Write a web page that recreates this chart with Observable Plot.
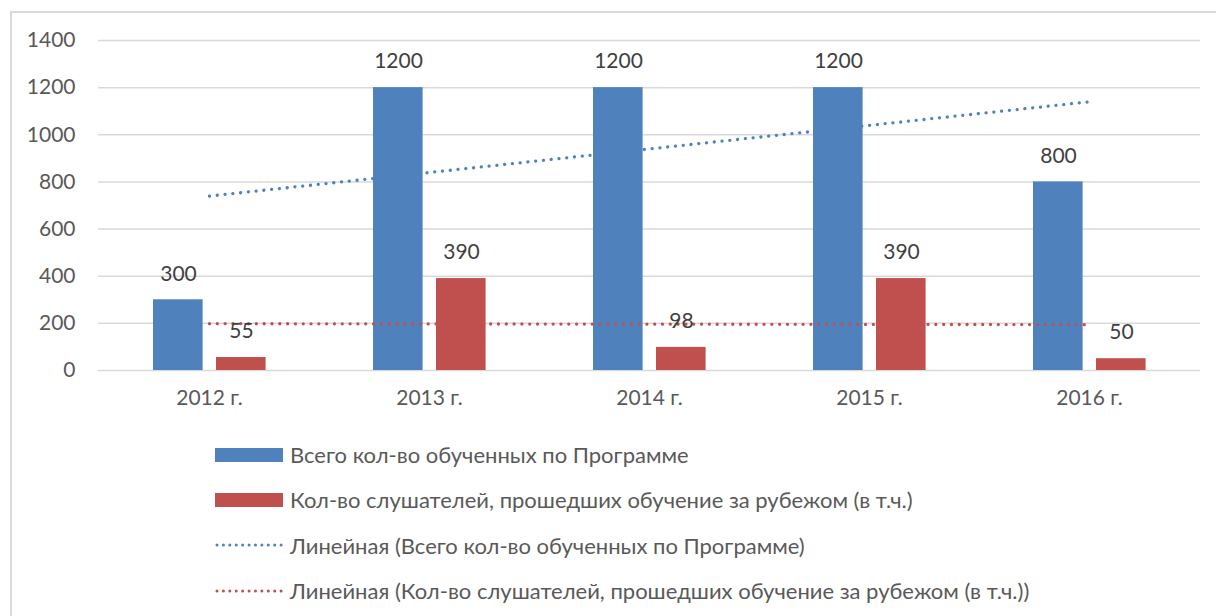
<!DOCTYPE html>
<html>
<head>
<meta charset="utf-8">
<script src="https://cdn.jsdelivr.net/npm/d3@7"></script>
<script src="https://cdn.jsdelivr.net/npm/@observablehq/plot@0.6"></script>
<style>
  html, body { margin: 0; padding: 0; background: #fff; }
  body { position: relative; width: 1216px; height: 616px; overflow: hidden; font-family: Lato, "Open Sans", sans-serif; color: #595959; }
  #frame { position: absolute; left: 10px; top: 11px; width: 1230px; height: 640px; border: 2px solid #d9d9d9; box-sizing: border-box; }
  #chart { position: absolute; left: 0; top: 0; }
  #legend { position: absolute; left: 215px; top: 432px; }
  .row { display: flex; align-items: center; height: 45.3px; font-size: 22px; }
  .row svg { margin-right: 7px; flex: none; }
</style>
</head>
<body>
<div id="frame"></div>
<div id="chart"></div>
<div id="legend"></div>
<script>
// ---- data ----
const years = ["2012 г.", "2013 г.", "2014 г.", "2015 г.", "2016 г."];
const totalTrained = [300, 1200, 1200, 1200, 800];
const trainedAbroad = [55, 390, 98, 390, 50];
const yTicks = [0, 200, 400, 600, 800, 1000, 1200, 1400];
const seriesNames = [
  "Всего кол-во обученных по Программе",
  "Кол-во слушателей, прошедших обучение за рубежом (в т.ч.)",
  "Линейная (Всего кол-во обученных по Программе)",
  "Линейная (Кол-во слушателей, прошедших обучение за рубежом (в т.ч.))"
];
const colors = ["#4F81BD", "#C0504D"];

// least-squares linear trend over the category index
function linearTrend(vals) {
  const xs = vals.map((_, i) => i + 1);
  const mx = d3.mean(xs), my = d3.mean(vals);
  const b = d3.sum(xs, (x, i) => (x - mx) * (vals[i] - my)) / d3.sum(xs, x => (x - mx) ** 2);
  const a = my - b * mx;
  return xs.map(x => a + b * x);
}

const blue = years.map((y, i) => ({year: y, value: totalTrained[i]}));
const red = years.map((y, i) => ({year: y, value: trainedAbroad[i]}));
const blueTrend = linearTrend(totalTrained).map((v, i) => ({year: years[i], value: v}));
const redTrend = linearTrend(trainedAbroad).map((v, i) => ({year: years[i], value: v}));

const dotted = {strokeWidth: 3.3, strokeDasharray: "0.01 7.8", strokeLinecap: "round"};

const chart = Plot.plot({
  width: 1216,
  height: 420,
  marginLeft: 98,
  marginRight: 16,
  marginTop: 40,
  marginBottom: 50,
  style: {fontFamily: "Lato, 'Open Sans', sans-serif", fontSize: "21px", color: "#595959", background: "transparent"},
  x: {domain: years, padding: 0, label: null},
  y: {domain: [0, 1400], label: null},
  marks: [
    Plot.gridY(yTicks, {stroke: "#d9d9d9", strokeOpacity: 1, strokeWidth: 1.5}),
    Plot.axisY(yTicks, {tickSize: 0, tickPadding: 23, fontSize: 21, label: null, tickFormat: d => String(d)}),
    Plot.axisX({tickSize: 0, tickPadding: 20, fontSize: 21, label: null}),
    Plot.barY(blue, {x: "year", y: "value", fill: colors[0], insetLeft: 54, insetRight: 116.4}),
    Plot.barY(red, {x: "year", y: "value", fill: colors[1], insetLeft: 117, insetRight: 53.4}),
    Plot.line(blueTrend, {x: "year", y: "value", stroke: colors[0], ...dotted}),
    Plot.line(redTrend, {x: "year", y: "value", stroke: colors[1], ...dotted}),
    Plot.text(blue, {x: "year", y: "value", text: d => String(d.value), dx: -31, dy: -26, fontSize: 21, fill: "#404040"}),
    Plot.text(red, {x: "year", y: "value", text: d => String(d.value), dx: 32, dy: -26, fontSize: 21, fill: "#404040"})
  ]
});
document.getElementById("chart").appendChild(chart);

// ---- legend ----
const legend = document.getElementById("legend");
seriesNames.forEach((name, i) => {
  const row = document.createElement("div");
  row.className = "row";
  const ns = "http://www.w3.org/2000/svg";
  const sw = document.createElementNS(ns, "svg");
  sw.setAttribute("width", 68);
  sw.setAttribute("height", 16);
  const col = colors[i % 2];
  if (i < 2) {
    const r = document.createElementNS(ns, "rect");
    r.setAttribute("x", 0); r.setAttribute("y", 1); r.setAttribute("width", 68); r.setAttribute("height", 14);
    r.setAttribute("fill", col);
    sw.appendChild(r);
  } else {
    const l = document.createElementNS(ns, "line");
    l.setAttribute("x1", 2); l.setAttribute("x2", 67); l.setAttribute("y1", 8); l.setAttribute("y2", 8);
    l.setAttribute("stroke", col); l.setAttribute("stroke-width", 3);
    l.setAttribute("stroke-dasharray", "0.01 6.4"); l.setAttribute("stroke-linecap", "round");
    sw.appendChild(l);
  }
  row.appendChild(sw);
  const t = document.createElement("span");
  t.textContent = name;
  row.appendChild(t);
  legend.appendChild(row);
});
</script>
</body>
</html>
